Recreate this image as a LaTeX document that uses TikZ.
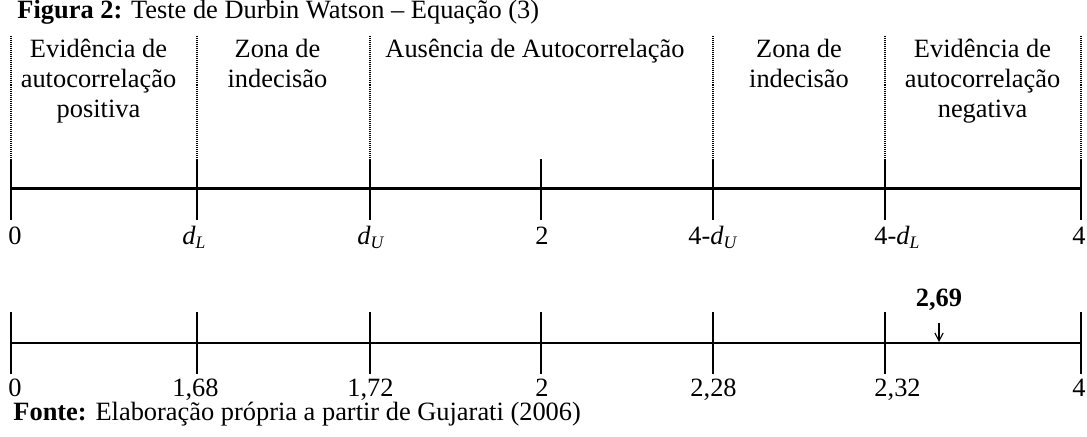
\documentclass[tikz,border=0pt]{standalone}
\usepackage{fontspec}
\setmainfont{Liberation Serif}
\usetikzlibrary{arrows.meta}
\tikzset{
  axisline/.style={line width=1.05pt},
  tickline/.style={line width=1.05pt},
  guide/.style={line width=0.5pt, dash pattern=on 0.45pt off 0.45pt},
  lbl/.style={anchor=base west, inner sep=0pt, font=\fontsize{12}{14}\selectfont},
  head/.style={anchor=base, inner sep=0pt, font=\fontsize{12}{14}\selectfont},
  pointer/.style={line width=0.5pt, -{Straight Barb[length=3.6pt, width=3.8pt, line width=0.5pt]}}
}
\newcommand{\dsub}[1]{\textit{d}\textsubscript{\textit{#1}}}
\begin{document}
\begin{tikzpicture}[x=0.4545pt, y=-0.4545pt]
\useasboundingbox (0,0) rectangle (1087,437);
% title
\node[lbl] (title) at (17,18.5) {\textbf{Figura 2:} Teste de Durbin Watson – Equação (3)};
% header texts
\node[head] (h1a) at (98.5,57.5) {Evidência de};
\node[head] (h1b) at (98.5,88) {autocorrelação};
\node[head] (h1c) at (98.5,118) {positiva};
\node[head] (h2a) at (277.5,57.5) {Zona de};
\node[head] (h2b) at (277.5,88) {indecisão};
\node[head] (h3a) at (535,57.5) {Ausência de Autocorrelação};
\node[head] (h4a) at (799,57.5) {Zona de};
\node[head] (h4b) at (799,88) {indecisão};
\node[head] (h5a) at (982.5,57.5) {Evidência de};
\node[head] (h5b) at (982.5,88) {autocorrelação};
\node[head] (h5c) at (982.5,118) {negativa};
% tick coordinates
\foreach \i/\x in {0/11,1/197,2/370,3/541,4/713,5/885,6/1081}{
  \coordinate (g\i a) at (\x,36);
  \coordinate (g\i b) at (\x,157);
  \coordinate (u\i a) at (\x,159);
  \coordinate (u\i m) at (\x,188.5);
  \coordinate (u\i b) at (\x,220);
  \coordinate (l\i a) at (\x,312);
  \coordinate (l\i m) at (\x,343);
  \coordinate (l\i b) at (\x,374);
}
% dotted guides
\foreach \i in {0,1,2,4,5,6}{
  \draw[guide] (g\i a) -- (g\i b);
}
% axes
\draw[axisline] (u0m) -- (u6m);
\draw[axisline] (l0m) -- (l6m);
\foreach \i in {0,...,6}{
  \draw[tickline] (u\i a) -- (u\i b);
  \draw[tickline] (l\i a) -- (l\i b);
}
% top labels
\node[lbl] (ta0) at (8,245) {0};
\node[lbl] (ta1) at (182,245) {\dsub{L}};
\node[lbl] (ta2) at (357,245) {\dsub{U}};
\node[lbl] (ta3) at (535,245) {2};
\node[lbl] (ta4) at (688,245) {4-\dsub{U}};
\node[lbl] (ta5) at (874,245) {4-\dsub{L}};
\node[lbl] (ta6) at (1072,245) {4};
% bottom labels
\node[lbl] (ba0) at (8,396.5) {0};
\node[lbl] (ba1) at (172,396.5) {1,68};
\node[lbl] (ba2) at (347,396.5) {1,72};
\node[lbl] (ba3) at (535,396.5) {2};
\node[lbl] (ba4) at (690,396.5) {2,28};
\node[lbl] (ba5) at (874,396.5) {2,32};
\node[lbl] (ba6) at (1072,396.5) {4};
% value marker
\node[head] (val) at (939,307) {\textbf{2,69}};
\coordinate (arrtop) at (939,323);
\coordinate (arrend) at (939,342);
\draw[pointer] (arrtop) -- (arrend);
% source
\node[lbl] (src) at (13,420.5) {\textbf{Fonte:} Elaboração própria a partir de Gujarati (2006)};
\end{tikzpicture}
\end{document}
